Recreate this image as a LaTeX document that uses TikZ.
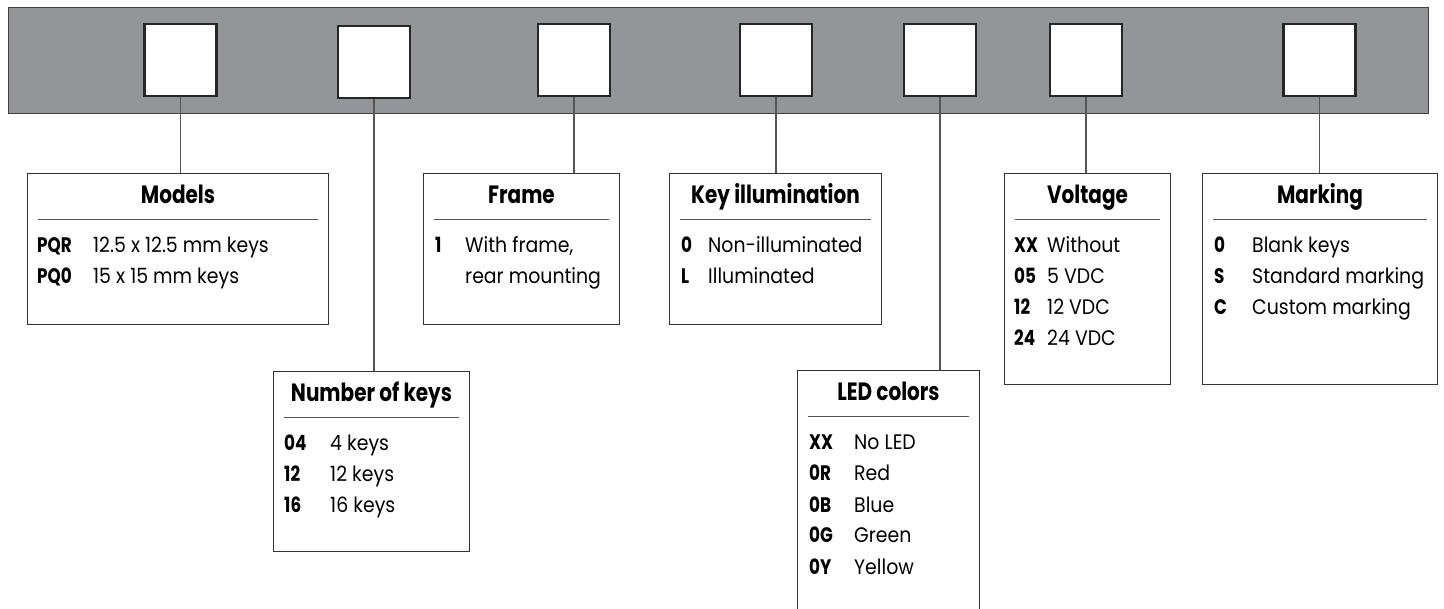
\documentclass[tikz,border=0pt]{standalone}
\usepackage{fontspec}
\setmainfont{Poppins}[FakeStretch=0.9]
\newfontfamily\titlefont{Poppins}[FakeStretch=0.8]
\usepackage{tikz}
\usetikzlibrary{positioning, calc}
\definecolor{barGray}{RGB}{148,149,153}
\definecolor{lineGray}{RGB}{85,85,88}
\tikzset{
	strip/.style   ={rectangle, draw=black!75, fill=barGray, line width=1pt, anchor=north west, inner sep=0pt},
	keysq/.style   ={rectangle, draw=black!85, fill=white, line width=2.4pt, minimum width=72pt, minimum height=72pt, inner sep=0pt},
	optbox/.style  ={rectangle, draw=black!80, line width=1pt, anchor=north west, inner sep=0pt},
	boxtitle/.style={anchor=base, inner sep=0pt, font=\titlefont\fontsize{25}{29}\selectfont\bfseries},
	code/.style    ={anchor=base west, inner sep=0pt, font=\titlefont\fontsize{21}{25}\selectfont\bfseries},
	desc/.style    ={anchor=base west, inner sep=0pt, font=\fontsize{21}{25}\selectfont},
	sepline/.style ={draw=lineGray, line width=0.9pt},
	lead/.style    ={draw=lineGray, line width=1.1pt},
}
\begin{document}
\begin{tikzpicture}[x=1pt, y=-1pt]
	\useasboundingbox (0,0) rectangle (1444,609);
	\clip (0,0) rectangle (1444,609);
	% code strip with the seven fields
	\node[strip, minimum width=1420pt, minimum height=106pt] (bar) at (8,7) {};
	\node[keysq] (k1) at (180.5,60) {};
	\node[keysq] (k2) at (374,62) {};
	\node[keysq] (k3) at (574,60) {};
	\node[keysq] (k4) at (776,60) {};
	\node[keysq] (k5) at (940,60) {};
	\node[keysq] (k6) at (1086,60) {};
	\node[keysq] (k7) at (1319.5,60) {};

	% Models
	\node[optbox, minimum width=301pt, minimum height=151pt] (models) at (27,173) {};
	\node[boxtitle] (models-t) at ([yshift=-31pt]models.north) {Models};
	\draw[sepline] ([xshift=11pt,yshift=-46pt]models.north west) -- ([xshift=-11pt,yshift=-46pt]models.north east);
	\foreach \c/\d [count=\i] in {PQR/12.5 x 12.5 mm keys, PQ0/15 x 15 mm keys} {
		\node[code] (models-c\i) at ([xshift=10pt,yshift={-49pt-\i*31pt}]models.north west) {\c};
		\node[desc] (models-d\i) at ([xshift=66pt,yshift={-49pt-\i*31pt}]models.north west) {\d};
	}

	% Number of keys
	\node[optbox, minimum width=196pt, minimum height=180pt] (nkeys) at (273,371) {};
	\node[boxtitle] (nkeys-t) at ([yshift=-31pt]nkeys.north) {Number of keys};
	\draw[sepline] ([xshift=11pt,yshift=-46pt]nkeys.north west) -- ([xshift=-11pt,yshift=-46pt]nkeys.north east);
	\foreach \c/\d [count=\i] in {04/4 keys, 12/12 keys, 16/16 keys} {
		\node[code] (nkeys-c\i) at ([xshift=11pt,yshift={-49pt-\i*31pt}]nkeys.north west) {\c};
		\node[desc] (nkeys-d\i) at ([xshift=57pt,yshift={-49pt-\i*31pt}]nkeys.north west) {\d};
	}

	% Frame
	\node[optbox, minimum width=196pt, minimum height=151pt] (frame) at (423,173) {};
	\node[boxtitle] (frame-t) at ([yshift=-31pt]frame.north) {Frame};
	\draw[sepline] ([xshift=11pt,yshift=-46pt]frame.north west) -- ([xshift=-11pt,yshift=-46pt]frame.north east);
	\node[code] (frame-c1) at ([xshift=12pt,yshift=-80pt]frame.north west) {1};
	\node[desc] (frame-d1) at ([xshift=42pt,yshift=-80pt]frame.north west) {With frame,};
	\node[desc] (frame-d2) at ([xshift=42pt,yshift=-111pt]frame.north west) {rear mounting};

	% Key illumination
	\node[optbox, minimum width=212pt, minimum height=151pt] (illum) at (669,173) {};
	\node[boxtitle] (illum-t) at ([yshift=-31pt]illum.north) {Key illumination};
	\draw[sepline] ([xshift=11pt,yshift=-46pt]illum.north west) -- ([xshift=-11pt,yshift=-46pt]illum.north east);
	\foreach \c/\d [count=\i] in {0/Non-illuminated, L/Illuminated} {
		\node[code] (illum-c\i) at ([xshift=12pt,yshift={-49pt-\i*31pt}]illum.north west) {\c};
		\node[desc] (illum-d\i) at ([xshift=39pt,yshift={-49pt-\i*31pt}]illum.north west) {\d};
	}

	% LED colors (runs off the bottom)
	\node[optbox, minimum width=182pt, minimum height=260pt] (led) at (797,370) {};
	\node[boxtitle] (led-t) at ([yshift=-31pt]led.north) {LED colors};
	\draw[sepline] ([xshift=11pt,yshift=-46pt]led.north west) -- ([xshift=-11pt,yshift=-46pt]led.north east);
	\foreach \c/\d [count=\i] in {XX/No LED, 0R/Red, 0B/Blue, 0G/Green, 0Y/Yellow} {
		\node[code] (led-c\i) at ([xshift=12pt,yshift={-49pt-\i*31pt}]led.north west) {\c};
		\node[desc] (led-d\i) at ([xshift=57pt,yshift={-49pt-\i*31pt}]led.north west) {\d};
	}

	% Voltage
	\node[optbox, minimum width=166pt, minimum height=211pt] (volt) at (1004,173) {};
	\node[boxtitle] (volt-t) at ([yshift=-31pt]volt.north) {Voltage};
	\draw[sepline] ([xshift=11pt,yshift=-46pt]volt.north west) -- ([xshift=-11pt,yshift=-46pt]volt.north east);
	\foreach \c/\d [count=\i] in {XX/Without, 05/5 VDC, 12/12 VDC, 24/24 VDC} {
		\node[code] (volt-c\i) at ([xshift=10pt,yshift={-49pt-\i*31pt}]volt.north west) {\c};
		\node[desc] (volt-d\i) at ([xshift=43pt,yshift={-49pt-\i*31pt}]volt.north west) {\d};
	}

	% Marking
	\node[optbox, minimum width=235pt, minimum height=211pt] (mark) at (1202,173) {};
	\node[boxtitle] (mark-t) at ([yshift=-31pt]mark.north) {Marking};
	\draw[sepline] ([xshift=11pt,yshift=-46pt]mark.north west) -- ([xshift=-11pt,yshift=-46pt]mark.north east);
	\foreach \c/\d [count=\i] in {0/Blank keys, S/Standard marking, C/Custom marking} {
		\node[code] (mark-c\i) at ([xshift=12pt,yshift={-49pt-\i*31pt}]mark.north west) {\c};
		\node[desc] (mark-d\i) at ([xshift=50pt,yshift={-49pt-\i*31pt}]mark.north west) {\d};
	}

	% leads from the fields down to their boxes
	\draw[lead] (k1.south) -- (k1.south |- models.north);
	\draw[lead] (k2.south) -- (k2.south |- nkeys.north);
	\draw[lead] (k3.south) -- (k3.south |- frame.north);
	\draw[lead] (k4.south) -- (k4.south |- illum.north);
	\draw[lead] (k5.south) -- (k5.south |- led.north);
	\draw[lead] (k6.south) -- (k6.south |- volt.north);
	\draw[lead] (k7.south) -- (k7.south |- mark.north);
\end{tikzpicture}
\end{document}
